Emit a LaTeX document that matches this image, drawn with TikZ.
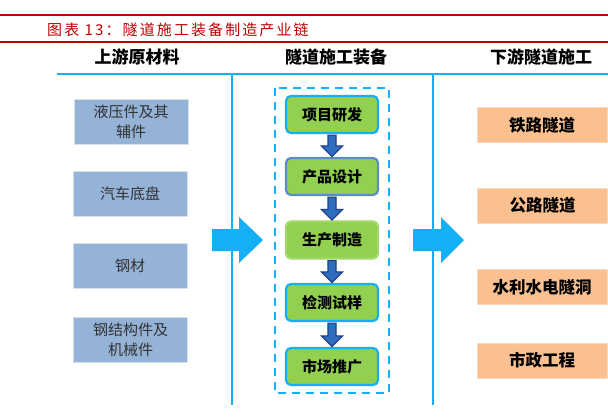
\documentclass[tikz,border=0pt]{standalone}
\usepackage{fontspec}
\setmainfont{Noto Sans CJK SC}
\newfontfamily\titlefont[LetterSpace=14]{Noto Sans CJK SC}
\usetikzlibrary{calc}
\definecolor{redline}{RGB}{192,0,0}
\definecolor{skyb}{RGB}{20,175,245}
\definecolor{leftfill}{RGB}{149,179,215}
\definecolor{greenfill}{RGB}{146,208,80}
\definecolor{orangefill}{RGB}{250,192,144}
\definecolor{navy}{RGB}{31,64,140}
\definecolor{arrfill}{RGB}{46,110,190}
\definecolor{steel}{RGB}{91,140,200}
\definecolor{txtgray}{RGB}{50,50,50}
\tikzset{
  header/.style={font=\fontsize{17}{18}\selectfont\bfseries, text=black, inner sep=0},
  leftbox/.style={fill=leftfill, draw=leftfill!40!white, line width=0.8pt, minimum width=114pt, minimum height=45pt, align=center, text=txtgray, font=\fontsize{15}{20}\selectfont, inner sep=0},
  greenbox/.style={fill=greenfill, draw=skyb, line width=2.2pt, rounded corners=5pt, minimum width=92pt, minimum height=37pt, font=\fontsize{15}{18}\selectfont\bfseries, text=black, inner sep=0},
  rightbox/.style={fill=orangefill, draw=orangefill!60!white, line width=0.6pt, minimum width=130pt, minimum height=35pt, font=\fontsize{16.5}{18}\selectfont\bfseries, text=black, inner sep=0},
  vline/.style={draw=skyb, line width=2.6pt},
  bigarrow/.style={fill=skyb, draw=none},
  smallarrow/.style={fill=arrfill, draw=navy, line width=1.2pt, line join=miter},
}
\begin{document}
\begin{tikzpicture}[x=1pt,y=-1pt]
\useasboundingbox (0,0) rectangle (608,416);
\fill[white] (0,0) rectangle (608,416);
% title band
\draw[redline, line width=2pt] (0,15) -- (608,15);
\draw[redline, line width=2pt] (0,42) -- (608,42);
\node[anchor=west, inner sep=0, text=redline, font=\titlefont\fontsize{15}{16}\selectfont] (title) at (47,29.5) {图表 13：隧道施工装备制造产业链};
% headers
\node[header] (h1) at (137,57) {上游原材料};
\node[header] (h2) at (336,57) {隧道施工装备};
\node[header] (h3) at (541,57) {下游隧道施工};
% blue frame lines
\coordinate (tl) at (57,74);
\coordinate (tr) at (608,74);
\coordinate (v1t) at (232,74);
\coordinate (v1b) at (232,405);
\coordinate (v2t) at (433,74);
\coordinate (v2b) at (433,405);
\draw[vline] (tl) -- (tr);
\draw[vline] (v1t) -- (v1b);
\draw[vline] (v2t) -- (v2b);
% dashed box
\draw[skyb, line width=2pt, dash pattern=on 8pt off 6pt] (275,88) rectangle (389,393);
% left boxes
\node[leftbox] (l1) at (131,122) {液压件及其\\辅件};
\node[leftbox] (l2) at (130,194) {汽车底盘};
\node[leftbox] (l3) at (130,266) {钢材};
\node[leftbox] (l4) at (130.5,339.5) {钢结构件及\\机械件};
% green boxes
\node[greenbox] (g1) at (332,114.5) {项目研发};
\node[greenbox, draw=steel] (g2) at (332,176.5) {产品设计};
\node[greenbox, draw=greenfill!85!white] (g3) at (332,240) {生产制造};
\node[greenbox] (g4) at (332,302.5) {检测试样};
\node[greenbox] (g5) at (332,366.5) {市场推广};
% small arrows
\foreach \a/\b in {g1/g2,g2/g3,g3/g4,g4/g5}{
  \draw[smallarrow] ([xshift=-4pt,yshift=-1pt]\a.south) -- ([xshift=-4pt,yshift=11pt]\b.north) -- ([xshift=-10.5pt,yshift=11pt]\b.north) -- ([yshift=0.5pt]\b.north) -- ([xshift=10.5pt,yshift=11pt]\b.north) -- ([xshift=4pt,yshift=11pt]\b.north) -- ([xshift=4pt,yshift=-1pt]\a.south) -- cycle;
}
% right boxes
\node[rightbox] (r1) at (542,125) {铁路隧道};
\node[rightbox] (r2) at (542.5,205.5) {公路隧道};
\node[rightbox] (r3) at (542,287) {水利水电隧洞};
\node[rightbox] (r4) at (542,360.5) {市政工程};
% big arrows
\fill[bigarrow] (212,229) -- (239,229) -- (239,217) -- (263,240) -- (239,263) -- (239,251) -- (212,251) -- cycle;
\fill[bigarrow] (413,229) -- (441,229) -- (441,217) -- (464,240) -- (441,263) -- (441,251) -- (413,251) -- cycle;
\end{tikzpicture}
\end{document}
